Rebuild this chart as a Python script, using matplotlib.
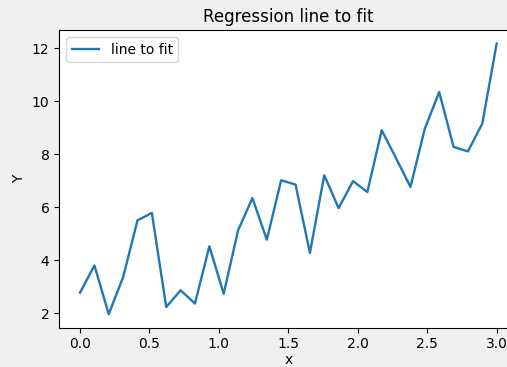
import numpy as np
import matplotlib.pyplot as plt

# x values: 30 evenly spaced points from 0 to 3
x = np.linspace(0, 3, 30)
y = [2.78, 3.81, 1.97, 3.37, 5.51, 5.79, 2.24, 2.87, 2.37, 4.53,
     2.74, 5.13, 6.35, 4.78, 7.02, 6.86, 4.28, 7.21, 5.97, 6.99,
     6.58, 8.91, 7.85, 6.77, 8.97, 10.35, 8.28, 8.11, 9.16, 12.18]

fig = plt.figure(figsize=(5.07, 3.67), dpi=100)
fig.patch.set_facecolor('#f0f0f0')
W, H = 507.0, 367.0
ax = fig.add_axes([59.2 / W, (H - 327.7) / H, (517.5 - 59.2) / W, (327.7 - 30) / H])

ax.plot(x, y, lw=1.7, label='line to fit')
ax.set_title('Regression line to fit')
ax.set_xlabel('x', labelpad=1)
ax.set_ylabel('Y')
ax.legend(loc='upper left')

fig.savefig('out.png', dpi=100, facecolor=fig.get_facecolor())
